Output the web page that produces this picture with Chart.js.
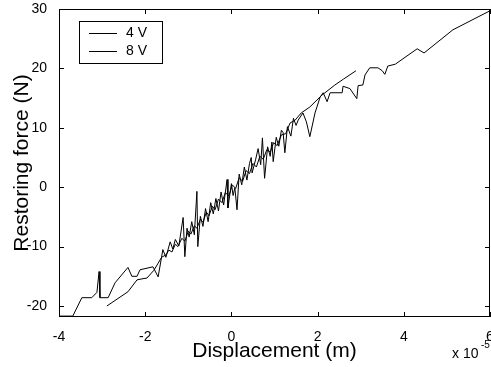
<!DOCTYPE html>
<html lang="en">
<head>
  <meta charset="UTF-8" />
  <title>Restoring force vs Displacement</title>
  <script src="https://cdn.jsdelivr.net/npm/chart.js"></script>
  <style>
    body { margin: 0; background: #fff; }
    canvas { display: block; }
  </style>
</head>
<body>
  <canvas id="forceChart" width="491" height="367"></canvas>

  <script>
    // displacement in units of 1e-5 m, force in N
    const xTicks = [-4, -2, 0, 2, 4, 6];
    const yTicks = [-20, -10, 0, 10, 20, 30];

    const v4x = [-2.89, -2.40, -2.19, -2.05, -1.96, -1.80, -1.70, -1.62, -1.52, -1.45, -1.38, -1.30, -1.24, -1.15, -1.08,
      -1.00, -0.94, -0.86, -0.80, -0.72, -0.66, -0.58, -0.52, -0.44, -0.38, -0.30, -0.22, -0.14, -0.06, 0.02,
      0.10, 0.18, 0.26, 0.34, 0.42, 0.50, 0.58, 0.66, 0.74, 0.82, 0.90, 0.98, 1.06, 1.16, 1.26,
      1.36, 1.48, 1.62, 1.82, 2.10, 2.40, 2.60, 2.89];
    const v4y = [-20.0, -17.6, -15.6, -15.4, -15.3, -14.0, -12.8, -11.8, -11.4, -10.6, -10.9, -9.6, -10.0, -8.6, -9.1,
      -7.4, -7.9, -6.5, -6.9, -5.4, -5.9, -4.2, -4.8, -3.2, -3.8, -2.0, -2.6, -0.9, -1.5, 0.4,
      -0.2, 1.6, 1.0, 2.8, 2.3, 4.0, 3.4, 5.2, 4.7, 6.3, 5.9, 7.5, 7.0, 8.8, 9.0,
      10.8, 11.3, 12.5, 13.5, 15.5, 17.2, 18.2, 19.6];

    const v8x = [-4.00, -3.68, -3.47, -3.24, -3.12, -3.07, -3.05, -2.86, -2.70, -2.40, -2.31, -2.19, -2.12, -1.82, -1.70,
      -1.59, -1.52, -1.42, -1.36, -1.30, -1.22, -1.12, -1.08, -1.03, -0.98, -0.92, -0.86, -0.80, -0.78, -0.72,
      -0.66, -0.60, -0.54, -0.48, -0.42, -0.36, -0.30, -0.24, -0.18, -0.10, -0.08, 0.00, 0.04, 0.08, 0.13,
      0.18, 0.24, 0.30, 0.36, 0.42, 0.46, 0.48, 0.56, 0.62, 0.68, 0.72, 0.77, 0.84, 0.90, 0.94,
      0.97, 1.04, 1.10, 1.16, 1.20, 1.24, 1.30, 1.38, 1.44, 1.50, 1.55, 1.66, 1.74, 1.82, 1.94,
      2.06, 2.13, 2.22, 2.29, 2.57, 2.59, 2.75, 2.91, 2.94, 3.05, 3.10, 3.21, 3.40, 3.50, 3.56,
      3.63, 3.80, 4.31, 4.47, 5.14, 6.00];
    const v8y = [-21.7, -21.7, -18.6, -18.6, -17.7, -14.2, -18.6, -18.6, -16.1, -13.5, -15.0, -15.0, -13.9, -13.4, -15.1,
      -10.5, -11.8, -9.2, -10.4, -8.8, -9.9, -5.1, -11.7, -6.9, -8.4, -5.8, -8.0, -0.7, -10.0, -4.9,
      -6.6, -3.6, -5.8, -2.6, -4.5, -1.9, -4.0, -0.8, -3.0, 1.3, -3.5, 0.6, -1.4, -0.1, -3.8,
      2.2, 0.4, 3.4, 1.2, 4.0, 5.0, 2.4, 4.6, 6.5, 3.8, 8.3, 1.5, 6.8, 5.2, 7.6,
      4.3, 8.4, 6.9, 9.6, 9.2, 5.8, 10.2, 8.6, 11.6, 10.4, 11.3, 12.5, 11.0, 8.5, 12.5,
      15.2, 15.9, 14.4, 15.9, 15.9, 17.0, 16.6, 14.9, 17.1, 17.2, 18.9, 20.1, 20.1, 19.6, 19.0,
      20.4, 20.7, 23.3, 22.6, 26.5, 29.7];

    const seriesNames = ['4 V', '8 V'];
    const FONT = '"Liberation Sans", Arial, sans-serif';

    function toPoints(xs, ys) {
      return xs.map((x, i) => ({ x: x, y: ys[i] }));
    }

    // box, inward ticks, axis titles, legend
    const framePlugin = {
      id: 'frame',
      afterDraw(chart) {
        const ctx = chart.ctx;
        const a = chart.chartArea;
        const xs = chart.scales.x, ys = chart.scales.y;
        ctx.save();
        ctx.strokeStyle = '#000';
        ctx.lineWidth = 1;
        ctx.strokeRect(a.left + 0.5, a.top + 0.5, a.right - a.left - 1, a.bottom - a.top - 1);
        ctx.beginPath();
        xTicks.forEach(v => {
          const px = Math.round(xs.getPixelForValue(v)) + 0.5;
          ctx.moveTo(px, a.bottom); ctx.lineTo(px, a.bottom - 5);
          ctx.moveTo(px, a.top); ctx.lineTo(px, a.top + 5);
        });
        yTicks.forEach(v => {
          const py = Math.round(ys.getPixelForValue(v)) + 0.5;
          ctx.moveTo(a.left, py); ctx.lineTo(a.left + 5, py);
          ctx.moveTo(a.right, py); ctx.lineTo(a.right - 5, py);
        });
        ctx.stroke();

        ctx.fillStyle = '#000';
        ctx.font = '21px ' + FONT;
        ctx.textAlign = 'center';
        ctx.textBaseline = 'alphabetic';
        ctx.fillText('Displacement (m)', (a.left + a.right) / 2, 357);
        ctx.save();
        ctx.translate(28, (a.top + a.bottom) / 2);
        ctx.rotate(-Math.PI / 2);
        ctx.fillText('Restoring force (N)', 0, 0);
        ctx.restore();

        ctx.textAlign = 'left';
        ctx.font = '14px ' + FONT;
        ctx.fillText('x 10', 452, 358);
        ctx.font = '10px ' + FONT;
        ctx.fillText('-5', 481, 348);

        // legend
        ctx.fillStyle = '#fff';
        ctx.fillRect(79.5, 21.5, 83, 42);
        ctx.strokeRect(79.5, 21.5, 83, 42);
        ctx.fillStyle = '#000';
        ctx.font = '14px ' + FONT;
        ctx.textBaseline = 'middle';
        seriesNames.forEach((name, i) => {
          const ly = 33.5 + i * 18;
          ctx.beginPath();
          ctx.moveTo(89, ly); ctx.lineTo(117, ly);
          ctx.stroke();
          ctx.fillText(name, 126, ly);
        });
        ctx.restore();
      }
    };

    const ctx = document.getElementById('forceChart').getContext('2d');
    new Chart(ctx, {
      type: 'scatter',
      data: {
        datasets: [
          {
            label: seriesNames[0],
            data: toPoints(v4x, v4y),
            showLine: true,
            borderColor: '#000',
            borderWidth: 1,
            pointRadius: 0,
            tension: 0
          },
          {
            label: seriesNames[1],
            data: toPoints(v8x, v8y),
            showLine: true,
            borderColor: '#000',
            borderWidth: 1,
            pointRadius: 0,
            tension: 0
          }
        ]
      },
      options: {
        responsive: false,
        animation: false,
        layout: { padding: { top: 9, right: 1, left: 0, bottom: 0 } },
        plugins: {
          legend: { display: false },
          tooltip: { enabled: false }
        },
        scales: {
          x: {
            type: 'linear',
            min: -4,
            max: 6,
            grid: { display: false },
            border: { display: false },
            afterBuildTicks: scale => { scale.ticks = xTicks.map(v => ({ value: v })); },
            afterFit: scale => {
              scale.height = 50;
              scale.paddingLeft = 0;
              scale.paddingRight = 0;
            },
            ticks: { color: '#000', font: { family: FONT, size: 14 }, padding: 4, maxRotation: 0 }
          },
          y: {
            type: 'linear',
            min: -21.85,
            max: 30,
            grid: { display: false },
            border: { display: false },
            afterBuildTicks: scale => { scale.ticks = yTicks.map(v => ({ value: v })); },
            afterFit: scale => {
              scale.width = 59;
              scale.paddingTop = 0;
              scale.paddingBottom = 0;
            },
            ticks: { color: '#000', font: { family: FONT, size: 14 }, padding: 4 }
          }
        }
      },
      plugins: [framePlugin]
    });
  </script>
</body>
</html>
